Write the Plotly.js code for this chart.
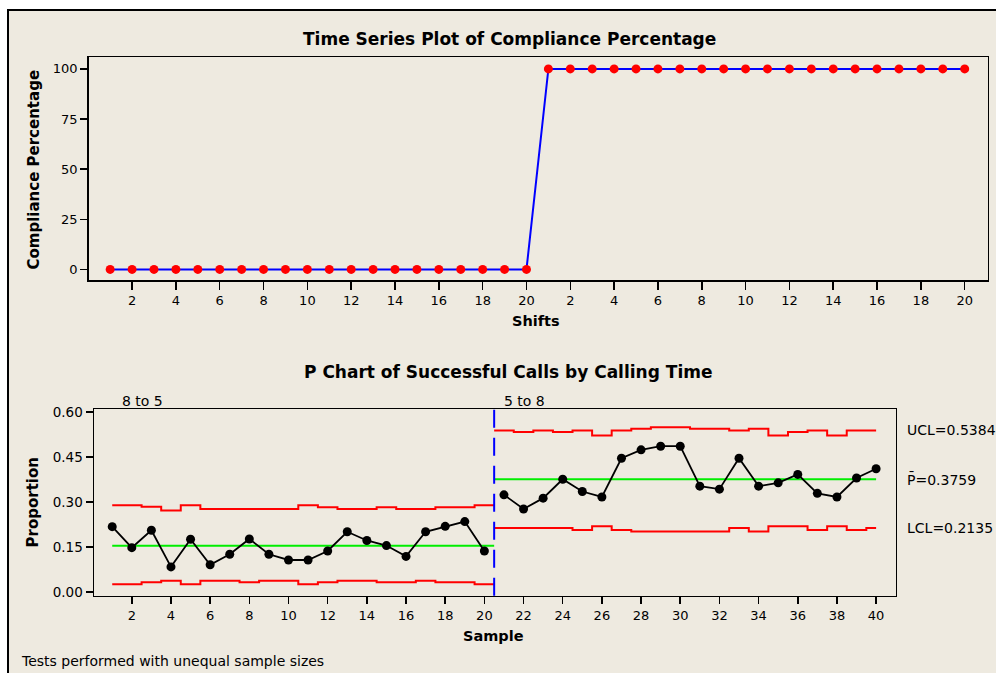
<!DOCTYPE html>
<html>
<head>
<meta charset="utf-8">
<script src="https://cdn.plot.ly/plotly-3.0.1.min.js"></script>
<style>
  html, body { margin: 0; padding: 0; background: #ffffff; }
  #chart { width: 996px; height: 673px; }
</style>
</head>
<body>
<div id="chart"></div>
<script>
// ---------- Data: Time series of compliance percentage ----------
const shiftIndex = [1,2,3,4,5,6,7,8,9,10,11,12,13,14,15,16,17,18,19,20,
                    21,22,23,24,25,26,27,28,29,30,31,32,33,34,35,36,37,38,39,40];
const compliancePct = [0,0,0,0,0,0,0,0,0,0,0,0,0,0,0,0,0,0,0,0,
                       100,100,100,100,100,100,100,100,100,100,100,100,100,100,100,100,100,100,100,100];
const shiftTickLabels = ["2","4","6","8","10","12","14","16","18","20",
                         "2","4","6","8","10","12","14","16","18","20"];

// ---------- Data: P chart, stage "8 to 5" ----------
const stage1Name = "8 to 5";
const stage1Samples = [1,2,3,4,5,6,7,8,9,10,11,12,13,14,15,16,17,18,19,20];
const stage1Prop = [0.218,0.148,0.206,0.084,0.176,0.091,0.126,0.177,0.126,0.107,
                    0.107,0.137,0.201,0.172,0.155,0.119,0.201,0.219,0.235,0.137];
const stage1UCL  = [0.289,0.289,0.284,0.272,0.289,0.277,0.277,0.277,0.277,0.277,
                    0.289,0.283,0.277,0.277,0.283,0.277,0.277,0.283,0.283,0.289];
const stage1LCL  = [0.026,0.026,0.033,0.038,0.026,0.038,0.038,0.033,0.038,0.038,
                    0.026,0.033,0.038,0.038,0.033,0.033,0.038,0.033,0.033,0.026];
const stage1CL = 0.154;

// ---------- Data: P chart, stage "5 to 8" ----------
const stage2Name = "5 to 8";
const stage2Samples = [21,22,23,24,25,26,27,28,29,30,31,32,33,34,35,36,37,38,39,40];
const stage2Prop = [0.324,0.277,0.313,0.376,0.335,0.317,0.446,0.474,0.486,0.486,
                    0.353,0.343,0.446,0.353,0.364,0.392,0.329,0.317,0.380,0.411];
const stage2UCL  = [0.5384,0.533,0.5384,0.533,0.5384,0.522,0.5384,0.544,0.549,0.549,
                    0.544,0.544,0.5384,0.544,0.522,0.533,0.5384,0.522,0.5384,0.5384];
const stage2LCL  = [0.2135,0.2135,0.2135,0.2135,0.207,0.219,0.207,0.202,0.202,0.202,
                    0.202,0.202,0.2135,0.202,0.219,0.219,0.207,0.219,0.207,0.2135];
const stage2CL = 0.3759;
const stage2Labels = {ucl: "UCL=0.5384", cl: "P\u0304=0.3759", lcl: "LCL=0.2135"};

const sampleTicks = [2,4,6,8,10,12,14,16,18,20,22,24,26,28,30,32,34,36,38,40];

// ---------- Styling ----------
const FONT = "DejaVu Sans, Verdana, sans-serif";
const BEIGE = "#eeeae0";
const W = 996, H = 673;
const px = v => v / W;
const py = v => 1 - v / H;

// stage boundary (between last sample of stage 1 and first of stage 2)
const boundary = (stage1Samples[stage1Samples.length - 1] + stage2Samples[0]) / 2;

// step helpers: extend limit lines to the stage boundary
const s1x = stage1Samples.concat([boundary]);
const s2x = [boundary].concat(stage2Samples);
const ext1 = arr => arr.concat([arr[arr.length - 1]]);
const ext2 = arr => [arr[0]].concat(arr);

const red = "#ff0000", green = "#00ee00";

const traces = [
  // top chart
  {x: shiftIndex, y: compliancePct, xaxis: "x", yaxis: "y", type: "scatter", mode: "lines",
   line: {color: "#0000ff", width: 2}},
  {x: shiftIndex, y: compliancePct, xaxis: "x", yaxis: "y", type: "scatter", mode: "markers",
   marker: {color: "#ff0000", size: 9}},
  // bottom chart: limits stage 1
  {x: s1x, y: ext1(stage1UCL), xaxis: "x2", yaxis: "y2", mode: "lines",
   line: {color: red, width: 2, shape: "hvh"}},
  {x: s1x, y: ext1(stage1LCL), xaxis: "x2", yaxis: "y2", mode: "lines",
   line: {color: red, width: 2, shape: "hvh"}},
  {x: [stage1Samples[0], boundary], y: [stage1CL, stage1CL], xaxis: "x2", yaxis: "y2", mode: "lines",
   line: {color: green, width: 2}},
  // stage 2
  {x: s2x, y: ext2(stage2UCL), xaxis: "x2", yaxis: "y2", mode: "lines",
   line: {color: red, width: 2, shape: "hvh"}},
  {x: s2x, y: ext2(stage2LCL), xaxis: "x2", yaxis: "y2", mode: "lines",
   line: {color: red, width: 2, shape: "hvh"}},
  {x: [boundary, stage2Samples[stage2Samples.length - 1]], y: [stage2CL, stage2CL], xaxis: "x2", yaxis: "y2", mode: "lines",
   line: {color: green, width: 2}},
  // proportions
  {x: stage1Samples, y: stage1Prop, xaxis: "x2", yaxis: "y2", mode: "lines+markers",
   line: {color: "#000000", width: 1.8}, marker: {color: "#000000", size: 9}},
  {x: stage2Samples, y: stage2Prop, xaxis: "x2", yaxis: "y2", mode: "lines+markers",
   line: {color: "#000000", width: 1.8}, marker: {color: "#000000", size: 9}}
];

const axisCommon = {
  showline: true, mirror: true, linecolor: "#000000", linewidth: 1.5,
  ticks: "outside", tickcolor: "#000000", tickwidth: 1.5, ticklen: 7,
  showgrid: false, zeroline: false, fixedrange: true,
  tickfont: {family: FONT, size: 13, color: "#000000"}
};

function label(text, x, y, size, extra) {
  return Object.assign({text: text, xref: "paper", yref: "paper", x: x, y: y,
    xanchor: "center", yanchor: "middle", showarrow: false,
    font: {family: FONT, size: size, color: "#000000"}}, extra || {});
}

const layout = {
  width: W, height: H,
  margin: {l: 0, r: 0, t: 0, b: 0},
  paper_bgcolor: "#ffffff",
  plot_bgcolor: "#ffffff",
  showlegend: false,
  font: {family: FONT, color: "#000000"},
  xaxis: Object.assign({}, axisCommon, {
    domain: [px(88.7), px(987.7)], anchor: "y",
    range: [0.02, 41.05],
    tickvals: shiftTickLabels.map((_, i) => 2 * (i + 1)),
    ticktext: shiftTickLabels, ticklen: 8
  }),
  yaxis: Object.assign({}, axisCommon, {
    domain: [py(280), py(57.3)], anchor: "x",
    range: [-5.3, 105.8],
    tickvals: [0, 25, 50, 75, 100]
  }),
  xaxis2: Object.assign({}, axisCommon, {
    domain: [px(94), px(895.7)], anchor: "y2",
    range: [0.07, 41.0],
    tickvals: sampleTicks
  }),
  yaxis2: Object.assign({}, axisCommon, {
    domain: [py(595.7), py(409.3)], anchor: "x2",
    range: [-0.012, 0.609],
    tickvals: [0, 0.15, 0.30, 0.45, 0.60],
    tickformat: ".2f",
    tickfont: {family: FONT, size: 13.5, color: "#000000"}
  }),
  shapes: [
    // outer beige panel with border
    {type: "rect", xref: "paper", yref: "paper", x0: px(8), x1: 1.02, y0: -0.02, y1: py(10),
     fillcolor: BEIGE, line: {color: "#000000", width: 2}, layer: "below"},
    // stage divider
    {type: "line", xref: "x2", yref: "y2 domain", x0: boundary, x1: boundary, y0: 0, y1: 1,
     line: {color: "#0000ff", width: 2, dash: "18px,10px"}}
  ],
  annotations: [
    label("<b>Time Series Plot of Compliance Percentage</b>", px(509), py(38.5), 17),
    label("<b>Compliance Percentage</b>", px(33.5), py(170), 15, {textangle: -90}),
    label("<b>Shifts</b>", px(536), py(320.5), 14.5),
    label("<b>P Chart of Successful Calls by Calling Time</b>", px(508), py(371.5), 17),
    label("<b>Proportion</b>", px(32.5), py(503), 15, {textangle: -90}),
    label("<b>Sample</b>", px(493), py(636), 14.5),
    label(stage1Name, px(142), py(401), 14),
    label(stage2Name, px(524), py(401), 14),
    {text: stage2Labels.ucl, xref: "paper", yref: "y2", x: px(905), y: stage2UCL[stage2UCL.length - 1],
     xanchor: "left", yanchor: "middle", showarrow: false, font: {family: FONT, size: 14, color: "#000000"}},
    {text: stage2Labels.cl, xref: "paper", yref: "y2", x: px(905), y: stage2CL,
     xanchor: "left", yanchor: "middle", showarrow: false, font: {family: FONT, size: 14, color: "#000000"}},
    {text: stage2Labels.lcl, xref: "paper", yref: "y2", x: px(905), y: stage2LCL[stage2LCL.length - 1],
     xanchor: "left", yanchor: "middle", showarrow: false, font: {family: FONT, size: 14, color: "#000000"}},
    label("Tests performed with unequal sample sizes", px(19), py(661), 14, {xanchor: "left"})
  ]
};

Plotly.newPlot("chart", traces, layout, {displayModeBar: false, staticPlot: true});
</script>
</body>
</html>
